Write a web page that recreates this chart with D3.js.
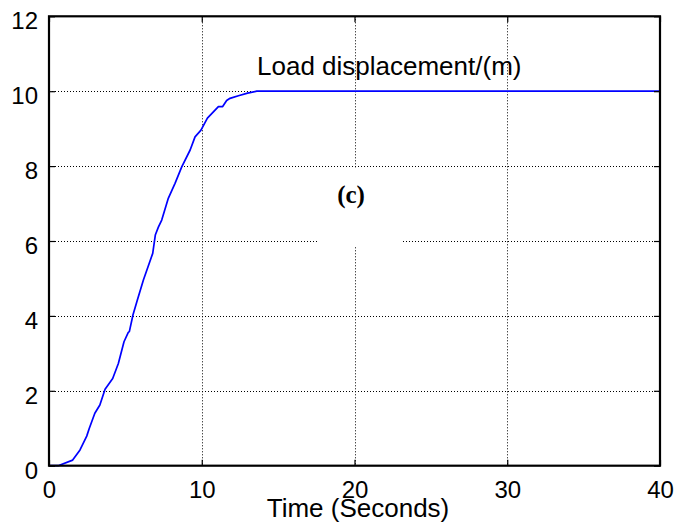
<!DOCTYPE html>
<html>
<head>
<meta charset="utf-8">
<script src="https://cdn.jsdelivr.net/npm/d3@7"></script>
<style>
  html, body { margin: 0; padding: 0; background: #fff; }
  svg { display: block; }
  .tick text { font-family: "Liberation Sans", Arial, sans-serif; font-size: 24px; fill: #000; }
</style>
</head>
<body>
<svg id="chart" width="679" height="532"></svg>
<script>
// Load displacement response over time
const timeSec = [0, 0.6, 1.55, 2.03, 2.47, 2.64, 3.0, 3.33, 3.67, 4.17, 4.54, 4.91, 5.19, 5.26, 5.5, 5.78, 6.18, 6.79, 6.96, 7.16, 7.38, 7.81, 8.25, 8.69, 9.24, 9.56, 9.95, 10.37, 11.09, 11.37, 11.63, 11.85, 12.4, 13.0, 13.6, 40];
const displacement = [0, 0, 0.15, 0.42, 0.79, 1.0, 1.4, 1.62, 2.04, 2.33, 2.73, 3.31, 3.56, 3.58, 4.03, 4.42, 4.96, 5.67, 6.16, 6.37, 6.56, 7.14, 7.54, 7.98, 8.43, 8.78, 8.96, 9.28, 9.59, 9.59, 9.75, 9.81, 9.88, 9.95, 10, 10];
const xTicks = [0, 10, 20, 30, 40];
const yTicks = [0, 2, 4, 6, 8, 10, 12];

const svg = d3.select("#chart");
const plotLeft = 49, plotRight = 660, plotTop = 16.3, plotBottom = 465.7;

const x = d3.scaleLinear().domain([0, 40]).range([plotLeft, plotRight]);
const y = d3.scaleLinear().domain([0, 12]).range([plotBottom, plotTop]);

// dotted grid
const grid = svg.append("g").attr("stroke", "#000").attr("stroke-width", 1).attr("stroke-dasharray", "1,2");
grid.selectAll("line.v").data(xTicks.slice(1, -1)).join("line").attr("class", "v")
  .attr("x1", d => Math.round(x(d)) + 0.5).attr("x2", d => Math.round(x(d)) + 0.5)
  .attr("y1", plotTop).attr("y2", plotBottom);
grid.selectAll("line.h").data(yTicks.slice(1, -1)).join("line").attr("class", "h")
  .attr("x1", plotLeft).attr("x2", plotRight)
  .attr("y1", d => Math.round(y(d)) + 0.5).attr("y2", d => Math.round(y(d)) + 0.5);

// blank panel behind the (c) tag
svg.append("rect").attr("x", 317).attr("y", 168).attr("width", 84).attr("height", 78).attr("fill", "#fff");

// curve
const line = d3.line().x((d, i) => x(timeSec[i])).y(d => y(d));
svg.append("path").datum(displacement)
  .attr("d", line).attr("fill", "none")
  .attr("stroke", "#0000ff").attr("stroke-width", 1.7).attr("stroke-linejoin", "round");

// axes with inward ticks
const fmt = d3.format("d");
const bottomAxis = svg.append("g").attr("transform", `translate(0,${plotBottom})`)
  .call(d3.axisBottom(x).tickValues(xTicks).tickFormat(fmt).tickSizeInner(-6).tickSizeOuter(0).tickPadding(10));
const leftAxis = svg.append("g").attr("transform", `translate(${plotLeft},0)`)
  .call(d3.axisLeft(y).tickValues(yTicks).tickFormat(fmt).tickSizeInner(-6).tickSizeOuter(0).tickPadding(11));
const topAxis = svg.append("g").attr("transform", `translate(0,${plotTop})`)
  .call(d3.axisTop(x).tickValues(xTicks).tickFormat("").tickSizeInner(-6).tickSizeOuter(0));
const rightAxis = svg.append("g").attr("transform", `translate(${plotRight},0)`)
  .call(d3.axisRight(y).tickValues(yTicks).tickFormat("").tickSizeInner(-6).tickSizeOuter(0));
[bottomAxis, leftAxis, topAxis, rightAxis].forEach(g => {
  g.select(".domain").remove();
  g.selectAll(".tick line").attr("stroke", "#000").attr("stroke-width", 1.2);
});
bottomAxis.selectAll(".tick text").attr("dy", "0.95em");
leftAxis.selectAll(".tick text").attr("dy", "0.52em");

// frame
svg.append("rect").attr("x", plotLeft).attr("y", plotTop)
  .attr("width", plotRight - plotLeft).attr("height", plotBottom - plotTop)
  .attr("fill", "none").attr("stroke", "#000").attr("stroke-width", 2.2);

// labels
svg.append("text").attr("x", 257).attr("y", 75)
  .attr("font-family", "Liberation Sans, Arial, sans-serif").attr("font-size", 26)
  .text("Load displacement/(m)");
svg.append("text").attr("x", 358).attr("y", 517).attr("text-anchor", "middle")
  .attr("font-family", "Liberation Sans, Arial, sans-serif").attr("font-size", 26)
  .text("Time (Seconds)");
svg.append("text").attr("x", 351).attr("y", 203).attr("text-anchor", "middle")
  .attr("font-family", "Liberation Serif, Times New Roman, serif").attr("font-size", 25).attr("font-weight", "bold")
  .text("(c)");
</script>
</body>
</html>
